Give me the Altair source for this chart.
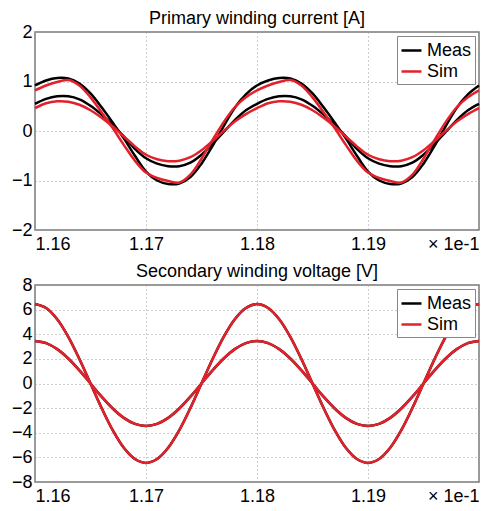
import altair as alt
import pandas as pd

# x positions (in units of 1e-1 s)
X = [1.160, 1.161, 1.162, 1.163, 1.164, 1.165, 1.166, 1.167, 1.168, 1.169,
     1.170, 1.171, 1.172, 1.173, 1.174, 1.175, 1.176, 1.177, 1.178, 1.179,
     1.180, 1.181, 1.182, 1.183, 1.184, 1.185, 1.186, 1.187, 1.188, 1.189,
     1.190, 1.191, 1.192, 1.193, 1.194, 1.195, 1.196, 1.197, 1.198, 1.199,
     1.200]

# Primary winding current [A]
CUR_MEAS_1 = [0.92, 1.02, 1.07, 1.06, 0.96, 0.76, 0.48, 0.17, -0.15, -0.50,
              -0.82, -1.00, -1.07, -1.06, -0.93, -0.66, -0.30, 0.10, 0.47, 0.74,
              0.92, 1.02, 1.07, 1.06, 0.96, 0.76, 0.48, 0.17, -0.15, -0.50,
              -0.82, -1.00, -1.07, -1.06, -0.93, -0.66, -0.30, 0.10, 0.47, 0.74,
              0.92]
CUR_MEAS_2 = [0.55, 0.65, 0.70, 0.70, 0.64, 0.51, 0.33, 0.12, -0.11, -0.36,
              -0.55, -0.66, -0.71, -0.71, -0.64, -0.48, -0.26, -0.02, 0.22, 0.42,
              0.55, 0.65, 0.70, 0.70, 0.64, 0.51, 0.33, 0.12, -0.11, -0.36,
              -0.55, -0.66, -0.71, -0.71, -0.64, -0.48, -0.26, -0.02, 0.22, 0.42,
              0.55]
CUR_SIM_1 = [0.82, 0.92, 0.99, 1.03, 0.92, 0.68, 0.38, 0.06, -0.28, -0.60,
             -0.84, -0.95, -1.01, -1.04, -0.88, -0.56, -0.18, 0.18, 0.48, 0.68,
             0.82, 0.92, 0.99, 1.03, 0.92, 0.68, 0.38, 0.06, -0.28, -0.60,
             -0.84, -0.95, -1.01, -1.04, -0.88, -0.56, -0.18, 0.18, 0.48, 0.68,
             0.82]
CUR_SIM_2 = [0.46, 0.56, 0.60, 0.59, 0.53, 0.42, 0.27, 0.09, -0.11, -0.31,
             -0.48, -0.57, -0.61, -0.60, -0.53, -0.39, -0.20, 0.00, 0.19, 0.34,
             0.46, 0.56, 0.60, 0.59, 0.53, 0.42, 0.27, 0.09, -0.11, -0.31,
             -0.48, -0.57, -0.61, -0.60, -0.53, -0.39, -0.20, 0.00, 0.19, 0.34,
             0.46]

# Secondary winding voltage [V]
VOLT_1 = [6.45, 6.13, 5.22, 3.79, 1.99, 0.00, -1.99, -3.79, -5.22, -6.13,
          -6.45, -6.13, -5.22, -3.79, -1.99, 0.00, 1.99, 3.79, 5.22, 6.13,
          6.45, 6.13, 5.22, 3.79, 1.99, 0.00, -1.99, -3.79, -5.22, -6.13,
          -6.45, -6.13, -5.22, -3.79, -1.99, 0.00, 1.99, 3.79, 5.22, 6.13,
          6.45]
VOLT_2 = [3.45, 3.28, 2.79, 2.03, 1.07, 0.00, -1.07, -2.03, -2.79, -3.28,
          -3.45, -3.28, -2.79, -2.03, -1.07, 0.00, 1.07, 2.03, 2.79, 3.28,
          3.45, 3.28, 2.79, 2.03, 1.07, 0.00, -1.07, -2.03, -2.79, -3.28,
          -3.45, -3.28, -2.79, -2.03, -1.07, 0.00, 1.07, 2.03, 2.79, 3.28,
          3.45]

SOURCES = ["Meas", "Sim"]
COLORS = ["#000000", "#e3212b"]
FONT = "Liberation Sans"


def frame(series):
    rows = []
    for src, curve, vals in series:
        for x, v in zip(X, vals):
            rows.append({"x": x, "v": v, "src": src, "curve": curve})
    return pd.DataFrame(rows)


cur_meas = frame([("Meas", "a", CUR_MEAS_1), ("Meas", "b", CUR_MEAS_2)])
cur_sim = frame([("Sim", "a", CUR_SIM_1), ("Sim", "b", CUR_SIM_2)])
volt_meas = frame([("Meas", "a", VOLT_1), ("Meas", "b", VOLT_2)])
volt_sim = frame([("Sim", "a", VOLT_1), ("Sim", "b", VOLT_2)])

x_enc = alt.X(
    "x:Q",
    scale=alt.Scale(domain=[1.16, 1.20], nice=False, zero=False),
    axis=alt.Axis(
        values=[1.16, 1.17, 1.18, 1.19, 1.20],
        labelExpr="datum.value > 1.1995 ? '× 1e-1' : format(datum.value, '.2f')",
        title=None,
    ),
)

color_enc = alt.Color(
    "src:N",
    scale=alt.Scale(domain=SOURCES, range=COLORS),
    legend=alt.Legend(
        title=None,
        orient="top-right",
        offset=4,
        fillColor="white",
        strokeColor="#888888",
        padding=3,
        labelFontSize=18,
        labelFont=FONT,
        labelColor="#000000",
        symbolType="stroke",
        symbolSize=400,
        symbolStrokeWidth=2.5,
        rowPadding=0,
        labelOffset=4,
        cornerRadius=0,
    ),
)


def panel(meas, sim, dom, vals, title, h):
    y_enc = alt.Y(
        "v:Q",
        scale=alt.Scale(domain=dom, nice=False),
        axis=alt.Axis(values=vals, title=None, format="d"),
    )
    base_m = alt.Chart(meas).mark_line(strokeWidth=2.5, interpolate="catmull-rom").encode(
        x=x_enc, y=y_enc, color=color_enc, detail="curve:N"
    )
    base_s = alt.Chart(sim).mark_line(strokeWidth=2.5, interpolate="catmull-rom").encode(
        x=x_enc, y=y_enc, color=color_enc, detail="curve:N"
    )
    return alt.layer(base_m, base_s).properties(
        width=444,
        height=h,
        title=alt.TitleParams(title, fontSize=18, font=FONT, fontWeight="normal",
                              color="#000000", offset=-5, anchor="middle"),
    )


top = panel(cur_meas, cur_sim, [-2, 2], [-2, -1, 0, 1, 2],
            "Primary winding current [A]", 198)
bottom = panel(volt_meas, volt_sim, [-8, 8], [-8, -6, -4, -2, 0, 2, 4, 6, 8],
               "Secondary winding voltage [V]", 197)

chart = (
    alt.vconcat(top, bottom, spacing=8)
    .resolve_scale(color="independent")
    .resolve_legend(color="independent")
    .properties(padding={"left": 2, "top": 1, "right": 2, "bottom": 2})
    .configure_view(stroke="#7a7a7a", strokeWidth=1.5)
    .configure_axis(
        labelFont=FONT,
        labelFontSize=18,
        labelColor="#000000",
        labelPadding=3,
        ticks=False,
        tickSize=0,
        domain=False,
        grid=True,
        gridColor="#9a9a9a",
        gridDash=[1, 3],
        gridWidth=1,
        labelOverlap=False,
        labelBound=False,
    )
    .configure_axisX(labelPadding=5)
)

chart.save("out.html", embed_options={"renderer": "svg", "actions": False})
